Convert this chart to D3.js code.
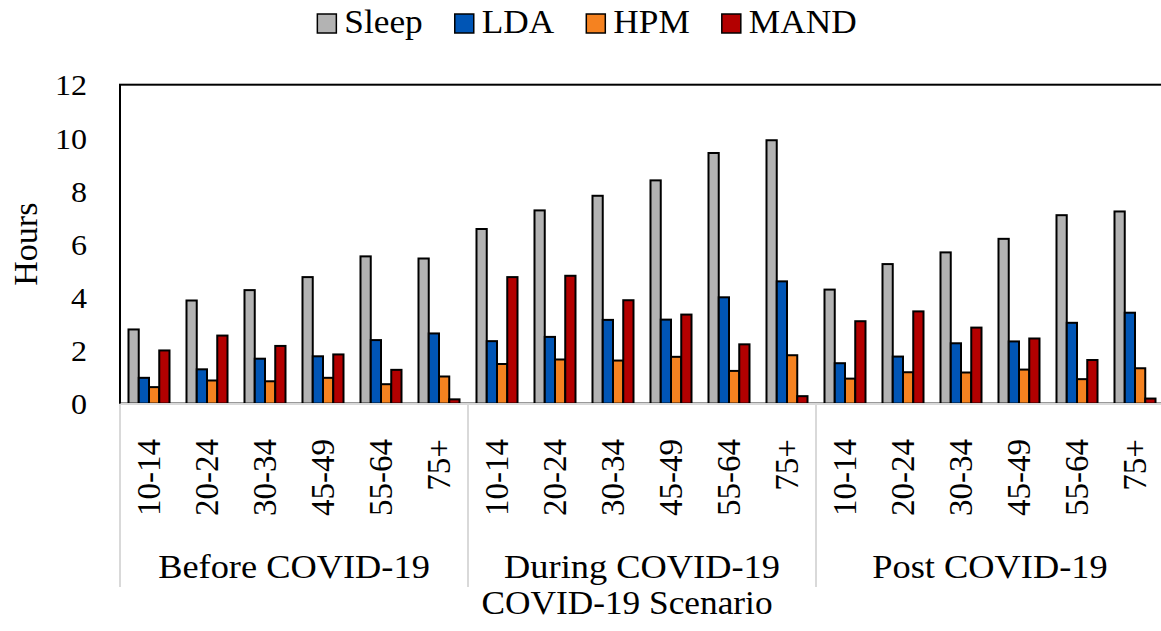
<!DOCTYPE html>
<html>
<head>
<meta charset="utf-8">
<script src="https://cdn.jsdelivr.net/npm/d3@7"></script>
<style>
  html, body { margin: 0; padding: 0; background: #ffffff; }
  svg { display: block; }
  text { font-family: "Liberation Serif", "Times New Roman", serif; fill: #000; }
</style>
</head>
<body>
<script>
// ---- Data ----
const scenarios = ["Before COVID-19", "During COVID-19", "Post COVID-19"];
const ageGroups = ["10-14", "20-24", "30-34", "45-49", "55-64", "75+"];
const seriesNames = ["Sleep", "LDA", "HPM", "MAND"];
const seriesColors = ["#b3b3b3", "#0055b5", "#f58220", "#b30000"];

const sleep = [2.79, 3.88, 4.27, 4.76, 5.54, 5.46,  6.57, 7.27, 7.82, 8.40, 9.43, 9.91,  4.29, 5.25, 5.69, 6.20, 7.09, 7.23];
const lda   = [0.97, 1.29, 1.69, 1.78, 2.39, 2.64,  2.35, 2.51, 3.15, 3.16, 4.00, 4.60,  1.52, 1.77, 2.27, 2.34, 3.04, 3.42];
const hpm   = [0.62, 0.87, 0.84, 0.97, 0.73, 1.02,  1.49, 1.66, 1.62, 1.76, 1.23, 1.82,  0.94, 1.18, 1.17, 1.28, 0.92, 1.33];
const mand  = [2.00, 2.56, 2.17, 1.85, 1.27, 0.16,  4.76, 4.81, 3.89, 3.35, 2.23, 0.28,  3.10, 3.47, 2.86, 2.45, 1.64, 0.19];

const yTicks = [0, 2, 4, 6, 8, 10, 12];
const yTitle = "Hours";
const xTitle = "COVID-19 Scenario";

// ---- Build table ----
const seriesValues = [sleep, lda, hpm, mand];
const cats = [];
scenarios.forEach(s => ageGroups.forEach(a => cats.push({ scen: s, age: a, key: s + "|" + a })));

// ---- Layout ----
const W = 1161, H = 631;
const plotL = 120, plotR = 1164, plotT = 84.7, plotB = 403.6;
const SX = 1.07; // horizontal stretch of the original image text

const svg = d3.select("body").append("svg").attr("width", W).attr("height", H);

const x0 = d3.scaleBand()
  .domain(cats.map(c => c.key))
  .range([plotL, plotR])
  .paddingInner(0.293)
  .paddingOuter(0.1465);
const x1 = d3.scaleBand().domain(seriesNames).range([0, x0.bandwidth()]).padding(0);
const y = d3.scaleLinear().domain([0, 12]).range([plotB, plotT]);
const step = x0.step();

// plot border (top + left + right)
svg.append("rect")
  .attr("x", plotL).attr("y", plotT)
  .attr("width", plotR - plotL).attr("height", plotB - plotT)
  .attr("fill", "none").attr("stroke", "#000").attr("stroke-width", 2);

// bars
seriesNames.forEach((name, j) => {
  svg.append("g").selectAll("rect")
    .data(cats.map((c, i) => ({ key: c.key, v: seriesValues[j][i] })))
    .join("rect")
    .attr("x", d => x0(d.key) + x1(name))
    .attr("y", d => y(d.v))
    .attr("width", x1.bandwidth())
    .attr("height", d => y(0) - y(d.v))
    .attr("fill", seriesColors[j])
    .attr("stroke", "#000")
    .attr("stroke-width", 2);
});

// category axis baseline (light gray)
svg.append("line")
  .attr("x1", plotL).attr("x2", plotR)
  .attr("y1", plotB + 0.5).attr("y2", plotB + 0.5)
  .attr("stroke", "#d9d9d9").attr("stroke-width", 2);

// group separators
d3.range(scenarios.length + 1).forEach(g => {
  const gx = plotL + g * ageGroups.length * step;
  svg.append("line")
    .attr("x1", gx).attr("x2", gx)
    .attr("y1", plotB).attr("y2", 587)
    .attr("stroke", "#d9d9d9").attr("stroke-width", 2);
});

// y axis
const yAxis = d3.axisLeft(y).tickValues(yTicks).tickSize(0).tickPadding(0).tickFormat(d3.format("d"));
const yg = svg.append("g").attr("transform", `translate(${plotL - 33},0)`).call(yAxis);
yg.select(".domain").remove();
yg.selectAll("text")
  .attr("font-family", "Liberation Serif")
  .attr("font-size", 30)
  .attr("fill", "#000")
  .attr("dy", "0.34em")
  .attr("x", 0)
  .attr("transform", `scale(${SX},1)`);

// redraw left axis line on top
svg.append("line")
  .attr("x1", plotL).attr("x2", plotL)
  .attr("y1", plotT).attr("y2", plotB)
  .attr("stroke", "#000").attr("stroke-width", 2);

// y title
svg.append("text")
  .attr("transform", `translate(37,${(plotT + plotB) / 2}) rotate(-90)`)
  .attr("text-anchor", "middle")
  .attr("font-size", 34)
  .text(yTitle);

// x tick labels (rotated)
svg.append("g").selectAll("text")
  .data(cats)
  .join("text")
  .attr("transform", d => `translate(${x0(d.key) + x0.bandwidth() / 2},439) rotate(-90)`)
  .attr("text-anchor", "end")
  .attr("dy", "0.34em")
  .attr("font-size", 33)
  .text(d => d.age);

// group labels
scenarios.forEach((s, g) => {
  const cx = plotL + (g + 0.5) * ageGroups.length * step;
  svg.append("text")
    .attr("transform", `translate(${cx},578) scale(${SX},1)`)
    .attr("text-anchor", "middle")
    .attr("font-size", 34)
    .text(s);
});

// x title
svg.append("text")
  .attr("transform", `translate(627,614) scale(${SX},1)`)
  .attr("text-anchor", "middle")
  .attr("font-size", 33)
  .text(xTitle);

// legend
const legend = svg.append("g");
let lx = 0;
seriesNames.forEach((name, j) => {
  const it = legend.append("g").attr("transform", `translate(${lx},0)`);
  it.append("rect")
    .attr("x", 0).attr("y", 14).attr("width", 19).attr("height", 19)
    .attr("fill", seriesColors[j]).attr("stroke", "#000").attr("stroke-width", 1.5);
  const t = it.append("text")
    .attr("transform", `translate(27,33) scale(${SX},1)`)
    .attr("font-size", 33)
    .text(name);
  const tw = t.node().getComputedTextLength() * SX;
  lx += 27 + tw + 32;
});
const legendW = lx - 32;
legend.attr("transform", `translate(${587 - legendW / 2},0)`);
</script>
</body>
</html>
